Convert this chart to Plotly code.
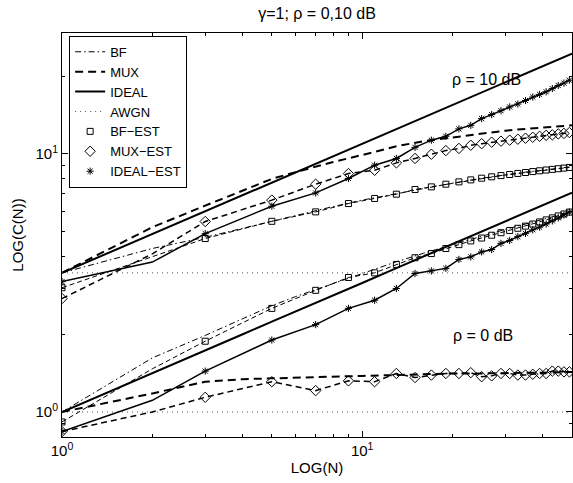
import plotly.graph_objects as go
import math

# ---------------- data ----------------
N_SMOOTH = [1, 2, 3, 4, 5, 6, 8, 10, 13, 16, 20, 25, 30, 35, 40, 45, 50]
IDEAL_10 = [3.46, 4.89, 5.99, 6.92, 7.73, 8.47, 9.79, 10.94, 12.47, 13.84, 15.47, 17.30, 18.95, 20.47, 21.88, 23.21, 24.46]
IDEAL_0 = [1.00, 1.41, 1.73, 2.00, 2.24, 2.45, 2.83, 3.16, 3.61, 4.00, 4.47, 5.00, 5.48, 5.92, 6.32, 6.71, 7.07]
BF_10 = [3.46, 4.30, 4.75, 5.15, 5.50, 5.78, 6.25, 6.62, 7.02, 7.35, 7.70, 8.05, 8.30, 8.50, 8.65, 8.80, 8.92]
BF_0 = [1.00, 1.62, 1.98, 2.30, 2.58, 2.80, 3.15, 3.45, 3.82, 4.12, 4.45, 4.80, 5.10, 5.35, 5.58, 5.78, 5.98]
MUX_10 = [3.46, 5.20, 6.30, 7.20, 8.00, 8.50, 9.30, 9.90, 10.70, 11.20, 11.60, 12.00, 12.30, 12.50, 12.65, 12.80, 12.90]
MUX_0 = [1.00, 1.18, 1.31, 1.34, 1.35, 1.36, 1.37, 1.38, 1.39, 1.40, 1.41, 1.41, 1.42, 1.42, 1.42, 1.43, 1.43]

AWGN_N = [1, 50]
AWGN_10 = [3.46, 3.46]
AWGN_0 = [1.0, 1.0]

N_EST = [1, 2, 3, 5, 7, 9, 11, 13, 15, 17, 19, 21, 23, 25, 27, 29, 31, 33, 35, 37, 39, 41, 43, 45, 47, 49]
IDEAL_EST_10 = [3.20, 3.81, 4.91, 6.27, 7.06, 8.03, 9.04, 9.60, 10.6, 11.3, 11.7, 12.5, 12.9, 13.7, 14.2, 14.7, 15.2, 15.6, 16.1, 16.6, 17.0, 17.4, 17.9, 18.4, 18.8, 19.3]
MUX_EST_10 = [2.75, 4.10, 5.47, 6.62, 7.63, 8.39, 8.64, 9.23, 9.60, 9.97, 10.3, 10.5, 10.8, 10.95, 11.1, 11.2, 11.3, 11.4, 11.5, 11.6, 11.7, 11.8, 11.85, 11.95, 12.0, 12.1]
BF_EST_10 = [3.03, 4.00, 4.70, 5.48, 5.96, 6.42, 6.72, 6.98, 7.28, 7.45, 7.63, 7.79, 7.93, 8.05, 8.15, 8.24, 8.32, 8.40, 8.47, 8.54, 8.60, 8.66, 8.71, 8.76, 8.81, 8.86]
IDEAL_EST_0 = [0.84, 1.11, 1.44, 1.90, 2.18, 2.52, 2.71, 3.01, 3.44, 3.52, 3.60, 3.90, 3.99, 4.17, 4.26, 4.50, 4.62, 4.78, 4.92, 5.08, 5.20, 5.35, 5.50, 5.65, 5.80, 5.95]
MUX_EST_0 = [0.84, 1.00, 1.14, 1.31, 1.21, 1.32, 1.31, 1.41, 1.36, 1.39, 1.41, 1.41, 1.42, 1.37, 1.38, 1.41, 1.41, 1.39, 1.39, 1.40, 1.41, 1.41, 1.44, 1.44, 1.43, 1.43]
BF_EST_0 = [0.915, 1.47, 1.88, 2.52, 2.96, 3.32, 3.46, 3.73, 3.96, 4.11, 4.30, 4.45, 4.60, 4.72, 4.84, 4.95, 5.05, 5.15, 5.25, 5.35, 5.45, 5.55, 5.65, 5.75, 5.85, 5.95]

LEGEND_NAMES = ["BF", "MUX", "IDEAL", "AWGN", "BF\u2212EST", "MUX\u2212EST", "IDEAL\u2212EST"]
TITLE = "\u03b3=1; \u03c1 = 0,10 dB"
X_LABEL = "LOG(N)"
Y_LABEL = "LOG(C(N))"
ANNOT_10 = "\u03c1 = 10 dB"
ANNOT_0 = "\u03c1 = 0 dB"
TICK_VALS = [1, 10]
TICK_TEXT = ["10<sup>0</sup>", "10<sup>1</sup>"]

# ---------------- helpers ----------------
def joined(x, a, b):
    return list(x) + [None] + list(x), list(a) + [None] + list(b)

def odd_only(x, y):
    xs, ys = [], []
    for n, v in zip(x, y):
        if n % 2 == 1:
            xs.append(n)
            ys.append(v)
    return xs, ys

FONT = "Liberation Sans, Arial, sans-serif"
fig = go.Figure()

x, y = joined(N_SMOOTH, BF_0, BF_10)
fig.add_trace(go.Scatter(x=x, y=y, mode="lines", name=LEGEND_NAMES[0],
                         line=dict(color="black", width=1, dash="6px,3px,1.5px,3px")))
x, y = joined(N_SMOOTH, MUX_0, MUX_10)
fig.add_trace(go.Scatter(x=x, y=y, mode="lines", name=LEGEND_NAMES[1],
                         line=dict(color="black", width=2, dash="8px,5px")))
x, y = joined(N_SMOOTH, IDEAL_0, IDEAL_10)
fig.add_trace(go.Scatter(x=x, y=y, mode="lines", name=LEGEND_NAMES[2],
                         line=dict(color="black", width=2)))
x, y = joined(AWGN_N, AWGN_0, AWGN_10)
fig.add_trace(go.Scatter(x=x, y=y, mode="lines", name=LEGEND_NAMES[3],
                         line=dict(color="#555555", width=1, dash="1px,4px")))

for a, b, lw, dash in [(BF_EST_0, BF_EST_10, 1, "5px,3px"),
                       (MUX_EST_0, MUX_EST_10, 1.5, "6px,4px"),
                       (IDEAL_EST_0, IDEAL_EST_10, 1.5, "solid")]:
    x, y = joined(N_EST, a, b)
    fig.add_trace(go.Scatter(x=x, y=y, mode="lines", showlegend=False, hoverinfo="skip",
                             line=dict(color="black", width=lw, dash=dash)))

for name, a, b, sym, size in [(LEGEND_NAMES[4], BF_EST_0, BF_EST_10, "square-open", 6),
                              (LEGEND_NAMES[5], MUX_EST_0, MUX_EST_10, "diamond-open", 8),
                              (LEGEND_NAMES[6], IDEAL_EST_0, IDEAL_EST_10, "asterisk-open", 6)]:
    x0, y0 = odd_only(N_EST, a)
    x1, y1 = odd_only(N_EST, b)
    fig.add_trace(go.Scatter(x=x0 + [None] + x1, y=y0 + [None] + y1, mode="markers", name=name,
                             marker=dict(symbol=sym, size=size, color="black",
                                         line=dict(color="black", width=1))))

fig.add_annotation(x=math.log10(26), y=math.log10(19.5), text=ANNOT_10, showarrow=False,
                   font=dict(family=FONT, size=16, color="black"))
fig.add_annotation(x=math.log10(25.2), y=math.log10(1.97), text=ANNOT_0, showarrow=False,
                   font=dict(family=FONT, size=16, color="black"))

x_minor = [2, 3, 4, 5, 6, 7, 8, 9, 20, 30, 40]
y_minor = [0.8, 0.9, 2, 3, 4, 5, 6, 7, 8, 9, 20]

axis_common = dict(showline=True, linecolor="black", linewidth=1, mirror="allticks",
                   ticks="inside", ticklen=6, tickcolor="black", showgrid=False, zeroline=False,
                   tickmode="array", tickvals=TICK_VALS, ticktext=TICK_TEXT,
                   tickfont=dict(family=FONT, size=15, color="black"))

fig.update_layout(
    width=573, height=483,
    margin=dict(l=62, r=1, t=33, b=46),
    paper_bgcolor="white", plot_bgcolor="white",
    title=dict(text=TITLE, x=0.5, xref="paper", xanchor="center",
               y=1 - 13 / 483, yref="container", yanchor="middle",
               font=dict(family=FONT, size=16, color="black")),
    xaxis=dict(type="log", range=[0, math.log10(50)],
               minor=dict(tickmode="array", tickvals=x_minor, ticks="inside", ticklen=3,
                          tickcolor="black"),
               title=dict(text=X_LABEL, standoff=4, font=dict(family=FONT, size=15, color="black")),
               **axis_common),
    yaxis=dict(type="log", range=[math.log10(0.8), math.log10(29.4)],
               minor=dict(tickmode="array", tickvals=y_minor, ticks="inside", ticklen=3,
                          tickcolor="black"),
               title=dict(text=Y_LABEL, standoff=8, font=dict(family=FONT, size=15, color="black")),
               **axis_common),
    legend=dict(x=0.014, y=0.993, xanchor="left", yanchor="top", bgcolor="white",
                bordercolor="black", borderwidth=1, tracegroupgap=0,
                font=dict(family=FONT, size=13, color="black"), itemwidth=30),
    showlegend=True,
)

fig.write_html("out.html", config={"displayModeBar": False},
               post_script="document.body.style.margin='0px';")
